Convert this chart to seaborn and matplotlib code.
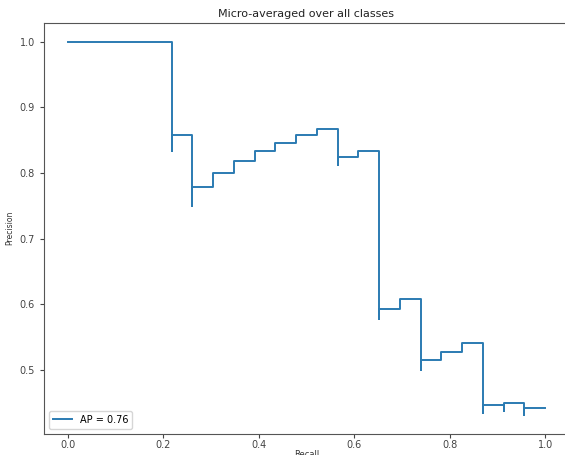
import matplotlib
matplotlib.use("Agg")
import matplotlib.pyplot as plt
import seaborn as sns
import pandas as pd

# Precision-recall operating points (recall increasing)
recall = [0.0, 0.2174, 0.2174, 0.2609, 0.2609, 0.3043, 0.3478, 0.3913, 0.4348,
          0.4783, 0.5217, 0.5652, 0.5652, 0.6087, 0.6522, 0.6522, 0.6957,
          0.7391, 0.7391, 0.7826, 0.8261, 0.8696, 0.8696, 0.9130, 0.9130,
          0.9565, 0.9565, 1.0]
precision = [1.0, 1.0, 0.8333, 0.8571, 0.75, 0.7778, 0.8, 0.8182, 0.8333,
             0.8462, 0.8571, 0.8667, 0.8125, 0.8235, 0.8333, 0.5769, 0.5926,
             0.6071, 0.5, 0.5143, 0.5278, 0.5405, 0.4348, 0.4468, 0.4375,
             0.4490, 0.4314, 0.4423]
ap_label = "AP = 0.76"
title = "Micro-averaged over all classes"

df = pd.DataFrame({"Recall": recall, "Precision": precision})

fig = plt.figure(figsize=(5.65, 4.55), dpi=100)
ax = fig.add_axes([44 / 565, 21.5 / 455, 525 / 565, 410.5 / 455])

sns.lineplot(data=df, x="Recall", y="Precision", sort=False, estimator=None,
             drawstyle="steps-pre", color="#2b7bb2", linewidth=1.4,
             label=ap_label, ax=ax)

ax.set_xlim(-0.05, 1.05)
ax.set_ylim(0.4029, 1.0284)
ax.set_xticks([0.0, 0.2, 0.4, 0.6, 0.8, 1.0])
ax.set_yticks([0.5, 0.6, 0.7, 0.8, 0.9, 1.0])
ax.tick_params(labelsize=7, colors="#444444", length=3)
ax.tick_params(axis="x", pad=2)
for s in ax.spines.values():
    s.set_color("#555555")
ax.set_title(title, fontsize=8, color="#222222", pad=4)
ax.set_xlabel("Recall", fontsize=6, color="#333333", labelpad=0)
ax.set_ylabel("Precision", fontsize=5.5, color="#333333", labelpad=4)
ax.legend(loc="lower left", fontsize=7, frameon=True, handlelength=2)

fig.savefig("out.png", dpi=100)
